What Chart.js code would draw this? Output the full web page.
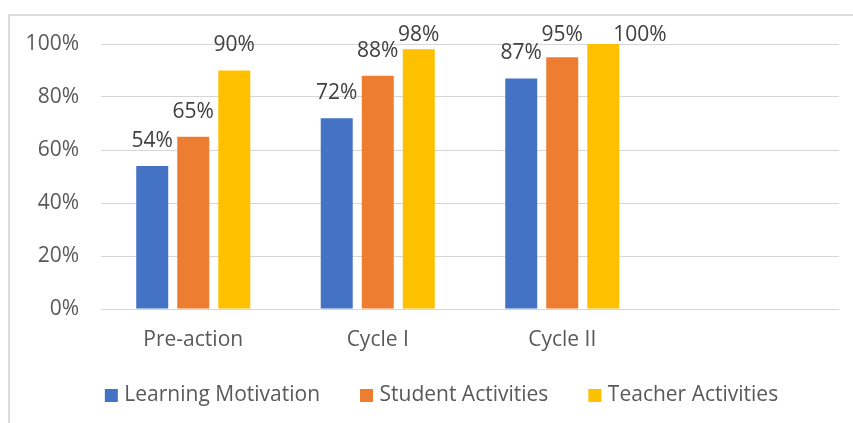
<!DOCTYPE html>
<html>
<head>
<meta charset="utf-8">
<script src="https://cdn.jsdelivr.net/npm/chart.js@4/dist/chart.umd.min.js"></script>
<style>
  html, body { margin: 0; padding: 0; background: #ffffff; }
  #wrap { width: 853px; height: 423px; }
</style>
</head>
<body>
<div id="wrap"><canvas id="chart" width="853" height="423"></canvas></div>
<script>
// ---- data ----
const categories = ['Pre-action', 'Cycle I', 'Cycle II', ''];
const learningMotivation = [54, 72, 87, null];
const studentActivities = [65, 88, 95, null];
const teacherActivities = [90, 98, 100, null];
const yTicks = [0, 20, 40, 60, 80, 100];
const seriesNames = ['Learning Motivation', 'Student Activities', 'Teacher Activities'];

const FONT = '"Open Sans", sans-serif';

const framePlugin = {
  id: 'frame',
  beforeDraw(chart) {
    const ctx = chart.ctx;
    ctx.save();
    ctx.fillStyle = '#ffffff';
    ctx.fillRect(0, 0, chart.width, chart.height);
    ctx.strokeStyle = '#dcdcdc';
    ctx.lineWidth = 2;
    ctx.beginPath();
    ctx.moveTo(9, chart.height);
    ctx.lineTo(9, 15);
    ctx.lineTo(chart.width, 15);
    ctx.stroke();
    ctx.restore();
  }
};

// nudge legend and widen x label area after layout
const layoutTweak = {
  id: 'layoutTweak',
  afterLayout(chart) {
    const lg = chart.legend;
    if (lg) { lg.left += 24; lg.right += 24; lg.top -= 7; lg.bottom -= 7; }
    const xs = chart.scales.x;
    if (xs) { xs.bottom += 20; }
  }
};

const valueLabels = {
  id: 'valueLabels',
  afterDatasetsDraw(chart) {
    const ctx = chart.ctx;
    const yMax = chart.scales.y.max;
    ctx.save();
    ctx.font = '21px ' + FONT;
    ctx.fillStyle = '#404040';
    ctx.textAlign = 'center';
    ctx.textBaseline = 'middle';
    chart.data.datasets.forEach((ds, di) => {
      const meta = chart.getDatasetMeta(di);
      meta.data.forEach((el, i) => {
        const v = ds.data[i];
        if (v === null || v === undefined) return;
        const txt = v + '%';
        const w = ctx.measureText(txt).width;
        let x = el.x;
        let y = Math.max(el.y - 25, 35);
        if (v >= yMax) x = el.x + el.width / 2 + w / 2 - 6;
        ctx.fillText(txt, x, y);
      });
    });
    ctx.restore();
  }
};

new Chart(document.getElementById('chart'), {
  type: 'bar',
  data: {
    labels: categories,
    datasets: [
      { label: seriesNames[0], data: learningMotivation, backgroundColor: '#4472C4' },
      { label: seriesNames[1], data: studentActivities, backgroundColor: '#ED7D31' },
      { label: seriesNames[2], data: teacherActivities, backgroundColor: '#FFC000' }
    ]
  },
  options: {
    responsive: false,
    animation: false,
    events: [],
    datasets: { bar: { categoryPercentage: 0.667, barPercentage: 0.78 } },
    layout: { padding: { left: 0, right: 14, top: 44, bottom: 0 } },
    plugins: {
      tooltip: { enabled: false },
      legend: {
        position: 'bottom',
        align: 'center',
        labels: {
          usePointStyle: true,
          pointStyle: 'rect',
          boxWidth: 5,
          boxHeight: 13,
          padding: 44,
          color: '#595959',
          font: { family: FONT, size: 21 }
        }
      }
    },
    scales: {
      x: {
        grid: { display: false, drawTicks: false },
        border: { display: false },
        ticks: { color: '#595959', font: { family: FONT, size: 21 }, padding: 18, maxRotation: 0 },
        afterFit(scale) { scale.height = 39; }
      },
      y: {
        min: 0,
        max: 100,
        afterBuildTicks(scale) { scale.ticks = yTicks.map(v => ({ value: v })); },
        grid: { color: '#d6d6d6', lineWidth: 1, drawTicks: false },
        border: { display: false },
        ticks: {
          color: '#595959',
          font: { family: FONT, size: 21 },
          padding: 22,
          callback: v => v + '%'
        },
        afterFit(scale) { scale.width = 101; }
      }
    }
  },
  plugins: [framePlugin, layoutTweak, valueLabels]
});
</script>
</body>
</html>
